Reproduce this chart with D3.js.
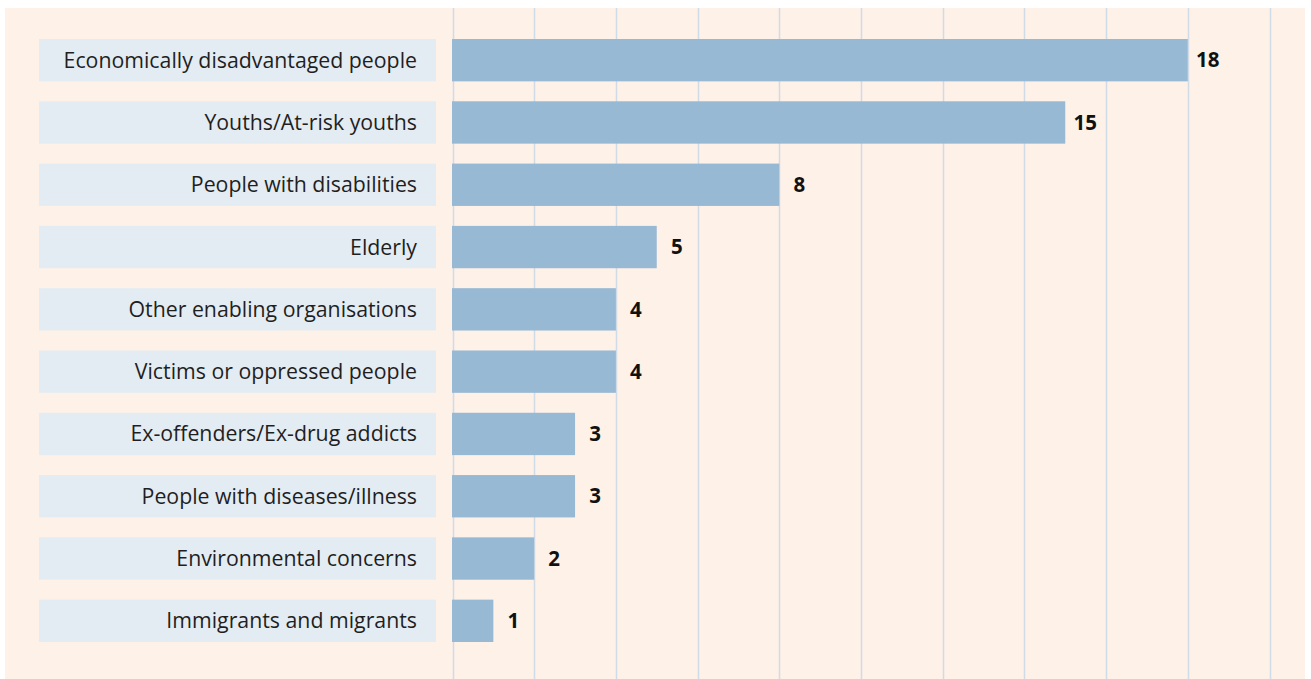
<!DOCTYPE html>
<html>
<head>
<meta charset="utf-8">
<script src="https://cdn.jsdelivr.net/npm/d3@7"></script>
<style>
  html, body { margin: 0; padding: 0; background: #ffffff; }
  svg { display: block; font-family: "Open Sans", sans-serif; }
</style>
</head>
<body>
<svg id="chart" width="1311" height="679"></svg>
<script>
// Beneficiary groups and the number of organisations serving each
const categories = [
  "Economically disadvantaged people",
  "Youths/At-risk youths",
  "People with disabilities",
  "Elderly",
  "Other enabling organisations",
  "Victims or oppressed people",
  "Ex-offenders/Ex-drug addicts",
  "People with diseases/illness",
  "Environmental concerns",
  "Immigrants and migrants"
];
const counts = [18, 15, 8, 5, 4, 4, 3, 3, 2, 1];
const gridTicks = [0, 2, 4, 6, 8, 10, 12, 14, 16, 18, 20];

const svg = d3.select("#chart");

// Panel background
svg.append("rect")
  .attr("x", 5).attr("y", 8)
  .attr("width", 1300).attr("height", 671)
  .attr("fill", "#fef1e8");

const x = d3.scaleLinear().domain([0, 20]).range([452.5, 1269.5]);
const y = d3.scaleBand().domain(categories).range([39, 642]).paddingInner(0.32).paddingOuter(0);

// Vertical gridlines
svg.append("g")
  .selectAll("line")
  .data(gridTicks)
  .join("line")
  .attr("x1", d => Math.round(x(d)) + 0.5)
  .attr("x2", d => Math.round(x(d)) + 0.5)
  .attr("y1", 8).attr("y2", 679)
  .attr("stroke", "#cfdbe7")
  .attr("stroke-width", 1.5);

const rows = svg.append("g")
  .selectAll("g")
  .data(categories.map((c, i) => ({ c, v: counts[i] })))
  .join("g");

// Label boxes
rows.append("rect")
  .attr("x", 39).attr("width", 397)
  .attr("y", d => y(d.c))
  .attr("height", y.bandwidth())
  .attr("fill", "#e4ecf3");

rows.append("text")
  .attr("x", 417)
  .attr("y", d => y(d.c) + y.bandwidth() / 2)
  .attr("dy", "0.35em")
  .attr("text-anchor", "end")
  .attr("font-size", 21.3)
  .attr("fill", "#1f1f1f")
  .text(d => d.c);

// Bars
rows.append("rect")
  .attr("x", x(0) - 0.5)
  .attr("y", d => y(d.c))
  .attr("width", d => x(d.v) - x(0) + 0.5)
  .attr("height", y.bandwidth())
  .attr("fill", "#98b9d4");

// Value labels, centred a fixed distance past each bar end
rows.append("text")
  .attr("x", d => x(d.v) + 20)
  .attr("y", d => y(d.c) + y.bandwidth() / 2)
  .attr("dy", "0.35em")
  .attr("text-anchor", "middle")
  .attr("font-size", 20.5)
  .attr("font-weight", 700)
  .attr("fill", "#111")
  .text(d => d.v);
</script>
</body>
</html>
